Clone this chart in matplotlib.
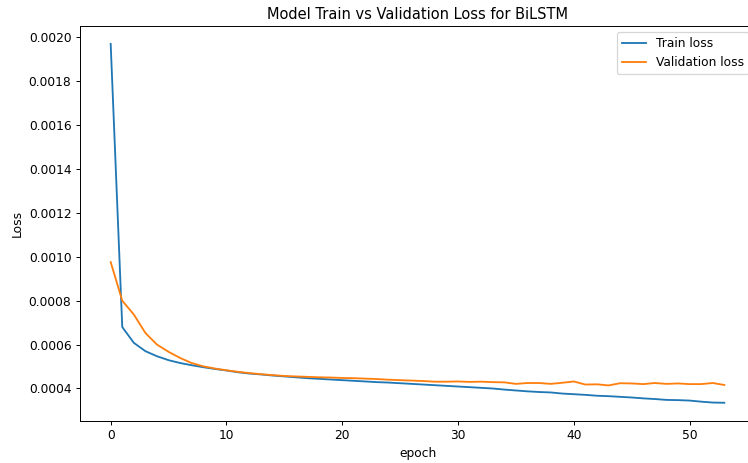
import numpy as np
import matplotlib
matplotlib.use('Agg')
import matplotlib.pyplot as plt

# Loss per epoch
train_loss = [
    0.00197, 0.00068, 0.000608, 0.00057, 0.000547, 0.000529, 0.000516, 0.000506,
    0.000497, 0.000489, 0.000482, 0.000474, 0.000468, 0.000464, 0.000459, 0.000455,
    0.000451, 0.000447, 0.000444, 0.000441, 0.000438, 0.000435, 0.000432, 0.000429,
    0.000427, 0.000424, 0.000421, 0.000418, 0.000415, 0.000412, 0.000409, 0.000406,
    0.000403, 0.000400, 0.000395, 0.000391, 0.000387, 0.000384, 0.000382, 0.000377,
    0.000374, 0.000371, 0.000367, 0.000365, 0.000362, 0.000359, 0.000355, 0.000352,
    0.000348, 0.000347, 0.000345, 0.000340, 0.000336, 0.000335,
]
val_loss = [
    0.000976, 0.0008, 0.000737, 0.000653, 0.0006, 0.000567, 0.000539, 0.000516,
    0.000501, 0.000491, 0.000483, 0.000476, 0.00047, 0.000465, 0.000461, 0.000457,
    0.000455, 0.000453, 0.000451, 0.00045, 0.000448, 0.000447, 0.000445, 0.000443,
    0.00044, 0.000438, 0.000436, 0.000434, 0.000431, 0.000431, 0.000432, 0.00043,
    0.000431, 0.000429, 0.000428, 0.000421, 0.000425, 0.000425, 0.000421, 0.000426,
    0.000432, 0.000418, 0.000419, 0.000414, 0.000424, 0.000423, 0.00042, 0.000425,
    0.000421, 0.000423, 0.00042, 0.00042, 0.000425, 0.000416,
]

DPI = 88
W, H = 748, 463
fig = plt.figure(figsize=(W / DPI, H / DPI), dpi=DPI)
# the reference is cropped on the right, so the axes run past the figure edge
ax = fig.add_axes([80 / W, 42.3 / H, 675 / W, 394.7 / H])

ax.plot(train_loss, label='Train loss')
ax.plot(val_loss, label='Validation loss')
ax.set_title('Model Train vs Validation Loss for BiLSTM')
ax.set_ylabel('Loss')
ax.set_xlabel('epoch')
ax.legend(loc='upper right')

fig.savefig('out.png', dpi=DPI)
